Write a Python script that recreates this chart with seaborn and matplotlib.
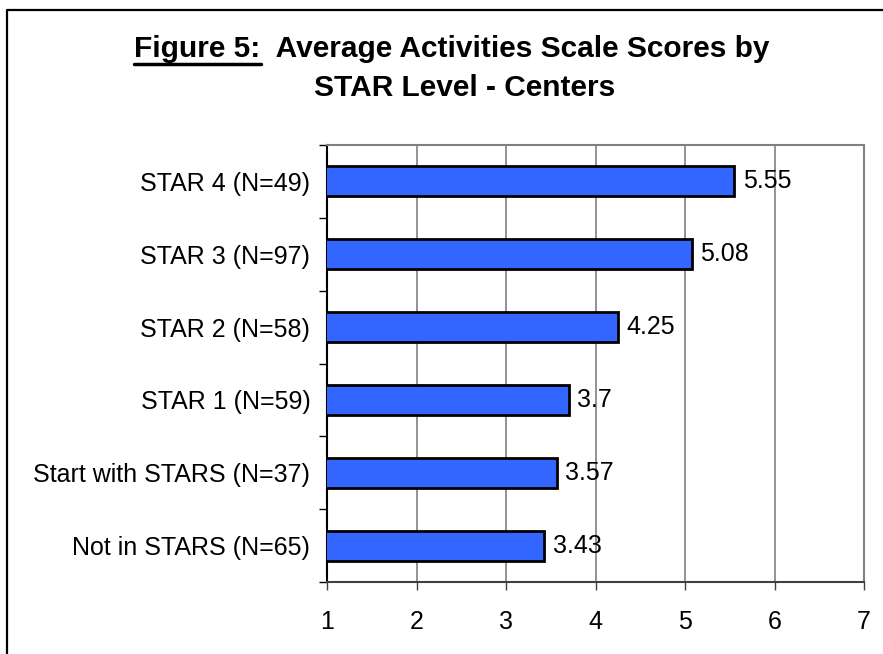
import numpy as np
import pandas as pd
import matplotlib
matplotlib.use('Agg')
import matplotlib.pyplot as plt
import seaborn as sns
from matplotlib.lines import Line2D

# Data (top to bottom)
categories = ['STAR 4 (N=49)', 'STAR 3 (N=97)', 'STAR 2 (N=58)', 'STAR 1 (N=59)',
              'Start with STARS (N=37)', 'Not in STARS (N=65)']
scores = [5.55, 5.08, 4.25, 3.7, 3.57, 3.43]
score_labels = ['5.55', '5.08', '4.25', '3.7', '3.57', '3.43']
x_ticks = [1, 2, 3, 4, 5, 6, 7]

sns.set_theme(style='white')
plt.rcParams['font.family'] = ['Liberation Sans', 'DejaVu Sans']
plt.rcParams['text.color'] = 'black'

df = pd.DataFrame({'Category': categories, 'Score': scores})

fig = plt.figure(figsize=(8.83, 6.54), dpi=100)
ax = fig.add_axes([327 / 883, 72 / 654, 537 / 883, 437 / 654])

sns.barplot(data=df, y='Category', x='Score', order=categories, orient='h',
            color='#3366FF', saturation=1, width=0.41,
            edgecolor='black', linewidth=2, ax=ax, zorder=3)

ax.set_xlim(1, 7)
ax.set_ylim(len(categories) - 0.5, -0.5)
ax.set_xticks(x_ticks)
ax.set_xticklabels([str(v) for v in x_ticks])
ax.xaxis.grid(True, color='#808080', linewidth=1.2, zorder=0)
ax.yaxis.grid(False)
ax.set_xlabel('')
ax.set_ylabel('')

# category boundary ticks on the left axis
ax.set_yticks(np.arange(-0.5, len(categories), 1.0), minor=True)
ax.tick_params(axis='y', which='minor', left=True, length=6, width=1, color='black')
ax.tick_params(axis='y', which='major', left=False, length=0, pad=12, labelsize=18, labelcolor='black')
ax.tick_params(axis='x', which='major', bottom=True, length=6, width=1, color='#404040',
               pad=14.5, labelsize=18, labelcolor='black')

for side, col in [('top', '#808080'), ('right', '#808080'), ('bottom', '#404040'), ('left', 'black')]:
    ax.spines[side].set_visible(True)
    ax.spines[side].set_color(col)
    ax.spines[side].set_linewidth(1.5)

# value labels
for i, (v, lab) in enumerate(zip(scores, score_labels)):
    ax.annotate(lab, (v, i), xytext=(6, 0), textcoords='offset points',
                ha='left', va='center', fontsize=18, color='black', zorder=2)

# title with underlined "Figure 5:"
title1 = fig.text(452 / 883, 1 - 49 / 654, 'Figure 5:  Average Activities Scale Scores by',
                  ha='center', va='center', fontsize=21.5, fontweight='bold', color='black')
fig.text(465 / 883, 1 - 88 / 654, 'STAR Level - Centers',
         ha='center', va='center', fontsize=21.5, fontweight='bold', color='black')

fig.canvas.draw()
renderer = fig.canvas.get_renderer()
bb = title1.get_window_extent(renderer)
tmp = fig.text(0, 0, 'Figure 5:', fontsize=21.5, fontweight='bold')
w = tmp.get_window_extent(renderer).width
tmp.remove()
y_ul = bb.y0 - 1
fig.add_artist(Line2D([bb.x0 / 883, (bb.x0 + w) / 883], [y_ul / 654, y_ul / 654],
                      color='black', linewidth=2.5, transform=fig.transFigure))

# outer border (only top and left are visible in the reference)
fig.add_artist(Line2D([7.5 / 883, 7.5 / 883, 1], [0, 1 - 9.5 / 654, 1 - 9.5 / 654],
                      color='black', linewidth=1.6, transform=fig.transFigure))

fig.savefig('out.png', dpi=100)
